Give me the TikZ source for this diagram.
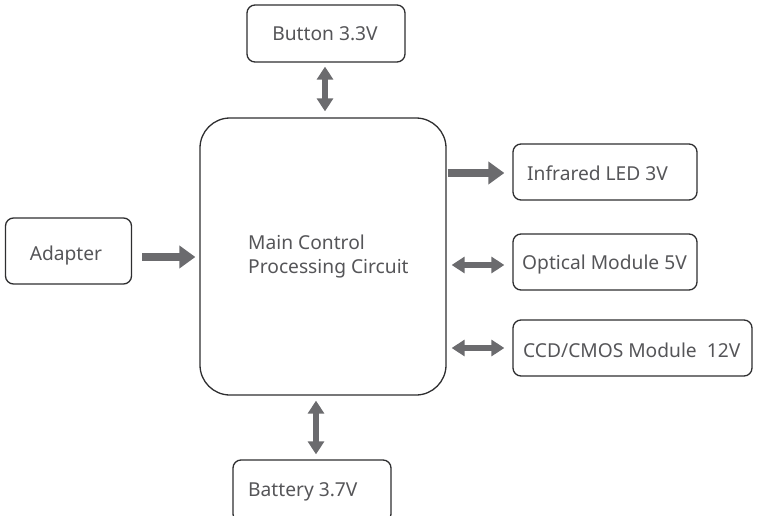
\documentclass[tikz,border=0pt]{standalone}
\usepackage{fontspec}
\setmainfont{Noto Sans}
\usetikzlibrary{arrows.meta}
\definecolor{txtc}{HTML}{555558}
\definecolor{arrc}{HTML}{6B6B6E}
\definecolor{brd}{HTML}{2E2E30}
\tikzset{
  box/.style={draw=brd, line width=1.3pt, rounded corners=8pt, inner sep=0pt},
  lbl/.style={text=txtc, font=\fontsize{19.2}{24}\selectfont, inner sep=0pt},
  bigarrow/.style={draw=arrc, line width=7.5pt, -{Triangle[width=22pt,length=16pt]}},
  dblarrow/.style={draw=arrc, line width=6.5pt, {Triangle[width=16pt,length=13pt]}-{Triangle[width=16pt,length=13pt]}},
}
\begin{document}
\begin{tikzpicture}[x=1pt,y=-1pt]
\useasboundingbox (0,0) rectangle (757,516);
% boxes
\node[box, minimum width=158pt, minimum height=57pt] (btn) at (326,33.5) {};
\node[box, minimum width=246pt, minimum height=277pt, rounded corners=30pt] (main) at (323,256.5) {};
\node[box, minimum width=126pt, minimum height=66pt] (adp) at (68.5,251) {};
\node[box, minimum width=184pt, minimum height=56pt] (ir) at (605,172) {};
\node[box, minimum width=184pt, minimum height=56pt] (opt) at (605,262) {};
\node[box, minimum width=239pt, minimum height=56pt] (ccd) at (632.5,348) {};
\node[box, minimum width=158pt, minimum height=62pt] (bat) at (312,491) {};
% labels
\node[lbl] (tbtn) at (325,34) {Button 3.3V};
\node[lbl] (tadp) at (66,256) {Adapter};
\node[lbl, align=left, anchor=west] (tmain) at (248,257) {Main Control\\Processing Circuit};
\node[lbl, anchor=west] (tir) at (527,173) {Infrared LED 3V};
\node[lbl, anchor=west] (topt) at (522,265) {Optical Module 5V};
\node[lbl, anchor=west] (tccd) at (523,350) {CCD/CMOS Module\ \ 12V};
\node[lbl, anchor=west] (tbat) at (248,492) {Battery 3.7V};
% connectors
\draw[dblarrow, shorten <=4pt, shorten >=6pt] (btn.south -| 325,0) -- (main.north -| 325,0);
\draw[bigarrow, shorten <=10pt, shorten >=4pt] ([yshift=-6pt]adp.east) -- ([yshift=-6pt]adp.east -| main.west);
\draw[bigarrow, shorten <=1pt, shorten >=8pt] ([yshift=-1pt]ir.west -| main.east) -- ([yshift=-1pt]ir.west);
\draw[dblarrow, shorten <=5pt, shorten >=8pt] ([yshift=-3pt]opt.west -| main.east) -- ([yshift=-3pt]opt.west);
\draw[dblarrow, shorten <=5pt, shorten >=8pt] (ccd.west -| main.east) -- (ccd.west);
\draw[dblarrow, shorten <=5pt, shorten >=5pt] (main.south -| 316,0) -- (bat.north -| 316,0);
\end{tikzpicture}
\end{document}
